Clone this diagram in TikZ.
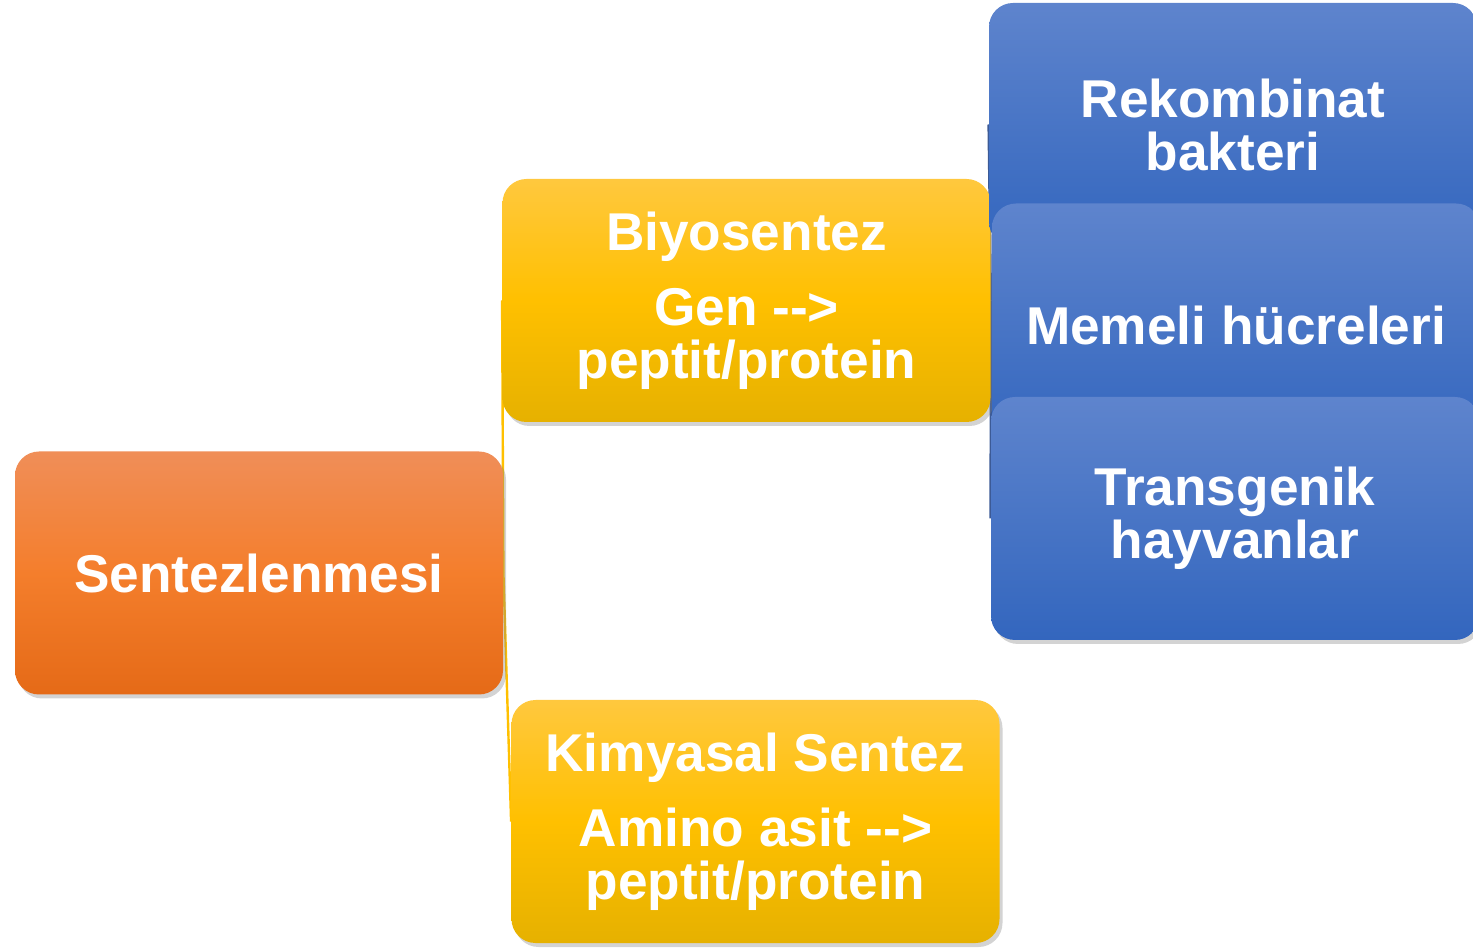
\documentclass[tikz,border=0pt]{standalone}
\usepackage{fontspec}
\setmainfont{Liberation Sans}
\usetikzlibrary{shadows,backgrounds}
\definecolor{orTop}{RGB}{240,142,88}
\definecolor{orMid}{RGB}{244,126,44}
\definecolor{orBot}{RGB}{229,106,23}
\definecolor{ylTop}{RGB}{255,200,62}
\definecolor{ylMid}{RGB}{255,192,0}
\definecolor{ylBot}{RGB}{230,177,0}
\definecolor{blTop}{RGB}{94,132,205}
\definecolor{blBot}{RGB}{51,102,190}
\definecolor{blLine}{RGB}{60,90,150}

\begin{document}
\begin{tikzpicture}[x=0.5pt,y=-0.5pt,
  box/.style={rounded corners=12pt, minimum width=244pt, minimum height=121.5pt,
    align=center, text=white, inner sep=0pt,
    font=\fontsize{26.6}{26.5}\selectfont\bfseries,
    drop shadow={shadow xshift=1.5pt, shadow yshift=-2pt, opacity=0.35}},
  rootbox/.style={box, top color=orTop, bottom color=orBot, middle color=orMid},
  midbox/.style={box, top color=ylTop, bottom color=ylBot, middle color=ylMid},
  leafbox/.style={box, top color=blTop, bottom color=blBot},
  ylink/.style={draw=ylMid, line width=1.2pt},
  blink/.style={draw=blLine, line width=1.2pt}]
\useasboundingbox (0,0) rectangle (1473,951);

% first level
\node[rootbox] (sentez) at (259,573) {Sentezlenmesi};
\node[midbox] (biyo) at (746.5,300.5) {Biyosentez\\[11pt]Gen -{}->\\peptit/protein};
\node[midbox] (kimya) at (755.5,821.5) {Kimyasal Sentez\\[11pt]Amino asit -{}->\\peptit/protein};

% second level
\node[leafbox] (rekomb) at (1233,124.5) {Rekombinat\\bakteri};
\node[leafbox] (memeli) at (1236,325) {Memeli hücreleri};
\node[leafbox] (trans) at (1235,518.5) {Transgenik\\hayvanlar};

\begin{scope}[on background layer]
\draw[ylink] (sentez.east) -- (biyo.west);
\draw[ylink] (sentez.east) -- (kimya.west);
\draw[blink] (biyo.east) -- (rekomb.west);
\draw[blink] (biyo.east) -- (memeli.west);
\draw[blink] (biyo.east) -- (trans.west);
\end{scope}
\end{tikzpicture}
\end{document}
